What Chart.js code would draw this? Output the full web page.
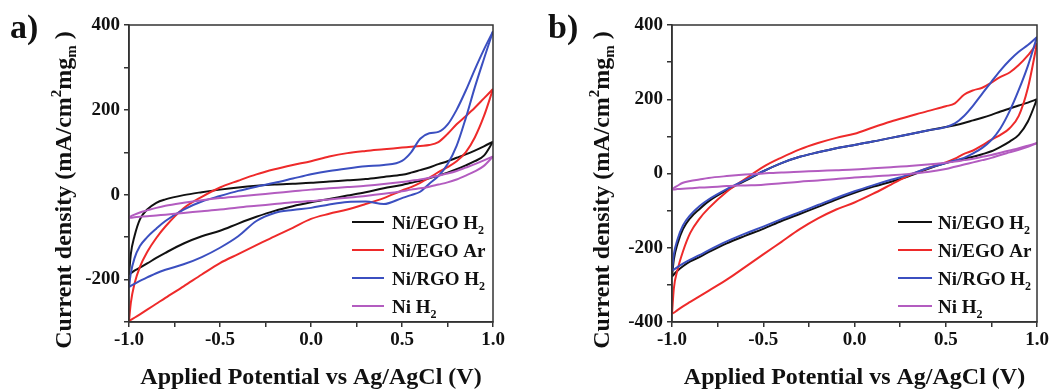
<!DOCTYPE html>
<html lang="en">
<head>
<meta charset="UTF-8">
<title>CV curves Ni/EGO</title>
<style>
  html, body { margin: 0; padding: 0; background: #fff; }
  .wrap { position: relative; width: 1052px; height: 389px; }
  .panel { position: absolute; top: 0; width: 526px; height: 389px; }
  #panelA { left: 0; }
  #panelB { left: 526px; }
</style>
<script src="https://cdn.jsdelivr.net/npm/chart.js@4.4.9/dist/chart.umd.min.js"></script>
</head>
<body>
<div class="wrap">
  <div class="panel" id="panelA"><canvas id="chartA" width="526" height="389"></canvas></div>
  <div class="panel" id="panelB"><canvas id="chartB" width="526" height="389"></canvas></div>
</div>
<script>
// potential grid (V vs Ag/AgCl), shared by every branch
const potential = [-1, -0.99, -0.97, -0.94, -0.9, -0.85, -0.8, -0.7, -0.6, -0.5, -0.4, -0.3, -0.2, -0.1, 0,
                   0.1, 0.2, 0.3, 0.4, 0.5, 0.55, 0.6, 0.65, 0.7, 0.75, 0.8, 0.85, 0.9, 0.95, 1];

const seriesNames = ['Ni/EGO H₂', 'Ni/EGO Ar', 'Ni/RGO H₂', 'Ni H₂'];
const seriesColors = ['#111111', '#ee2a2a', '#3b4fc0', '#b35cc0'];

// panel a) - anodic (forward) and cathodic (return) branches, mA/cm2 mg
const aEgoH2Fwd = [-188, -140, -98, -58, -35, -19, -11, -1, 6, 12, 17, 21, 24, 26, 28, 31, 34, 37, 42, 47, 52, 58, 64, 72, 79, 87, 95, 104, 114, 125];
const aEgoH2Rev = [-188, -185, -179, -172, -162, -149, -137, -115, -98, -85, -68, -52, -38, -27, -18, -10, -2, 6, 15, 23, 28, 33, 39, 45, 52, 60, 69, 79, 92, 125];
const aEgoArFwd = [-298, -255, -210, -170, -135, -102, -75, -32, -5, 17, 33, 48, 60, 70, 79, 90, 98, 103, 107, 111, 113, 115, 117, 124, 143, 166, 185, 205, 227, 249];
const aEgoArRev = [-298, -295, -290, -282, -271, -257, -243, -216, -188, -161, -140, -119, -98, -78, -57, -45, -35, -22, -8, 10, 18, 28, 40, 53, 65, 79, 100, 135, 185, 249];
const aRgoH2Fwd = [-218, -185, -150, -121, -100, -80, -62, -35, -16, -3, 9, 19, 28, 38, 48, 56, 62, 67, 70, 80, 100, 132, 145, 148, 165, 200, 245, 295, 342, 385];
const aRgoH2Rev = [-218, -215, -210, -203, -195, -185, -177, -164, -147, -125, -98, -62, -43, -36, -31, -23, -17, -16, -22, -8, -1, 7, 26, 44, 72, 115, 180, 253, 320, 385];
const aNiH2Fwd = [-54, -51, -47, -42, -37, -31, -26, -19, -13, -8, -4, 0, 4, 8, 12, 15, 18, 21, 25, 30, 33, 36, 40, 45, 50, 56, 64, 72, 81, 90];
const aNiH2Rev = [-54, -54, -53, -52, -51, -49, -47, -43, -39, -35, -30, -26, -22, -18, -15, -11, -7, -3, 2, 8, 12, 15, 19, 24, 29, 36, 45, 55, 68, 90];

// panel b)
const bEgoH2Fwd = [-278, -232, -190, -150, -120, -96, -75, -45, -20, 6, 28, 45, 57, 68, 77, 86, 96, 106, 116, 125, 130, 136, 143, 150, 158, 167, 175, 183, 191, 200];
const bEgoH2Rev = [-278, -272, -262, -250, -237, -225, -212, -188, -168, -149, -128, -109, -90, -70, -52, -36, -22, -7, 12, 28, 34, 40, 45, 52, 60, 72, 86, 104, 140, 200];
const bEgoArFwd = [-378, -310, -260, -210, -160, -122, -94, -49, -15, 18, 43, 65, 82, 96, 107, 124, 140, 154, 168, 181, 189, 212, 224, 231, 245, 260, 272, 292, 318, 350];
const bEgoArRev = [-378, -375, -368, -358, -346, -331, -316, -286, -252, -218, -184, -150, -121, -97, -78, -55, -30, -5, 14, 30, 40, 53, 62, 76, 91, 104, 122, 155, 230, 350];
const bRgoH2Fwd = [-262, -218, -178, -140, -112, -88, -70, -42, -18, 6, 28, 45, 57, 68, 77, 86, 96, 106, 116, 125, 135, 155, 183, 215, 247, 278, 305, 328, 346, 368];
const bRgoH2Rev = [-262, -259, -252, -243, -232, -220, -207, -183, -162, -143, -123, -104, -85, -66, -48, -32, -17, -3, 14, 28, 35, 42, 54, 69, 90, 122, 168, 225, 290, 368];
const bNiH2Fwd = [-43, -39, -33, -25, -20, -16, -12, -7, -3, 0, 3, 5, 7, 9, 11, 14, 17, 20, 24, 29, 32, 36, 40, 45, 50, 56, 62, 68, 75, 82];
const bNiH2Rev = [-43, -43, -42, -41, -40, -38, -37, -34, -32, -30, -26, -22, -19, -15, -11, -8, -5, -1, 4, 12, 18, 24, 30, 36, 42, 50, 57, 64, 72, 82];

const xTitle = 'Applied Potential vs Ag/AgCl (V)';
const FONT = '"Liberation Serif", "Times New Roman", serif';

// draw a list of text runs (for sub/superscripts) starting at x
function runsWidth(ctx, runs) {
    let w = 0;
    runs.forEach(r => { ctx.font = `bold ${r.s}px ${FONT}`; w += ctx.measureText(r.t).width; });
    return w;
}
function drawRuns(ctx, runs, x, y) {
    let cx = x;
    runs.forEach(r => {
        ctx.font = `bold ${r.s}px ${FONT}`;
        ctx.fillText(r.t, cx, y + (r.dy || 0));
        cx += ctx.measureText(r.t).width;
    });
}
function labelRuns(label, size) {
    const runs = [];
    label.split(/(₂)/).forEach(part => {
        if (!part) return;
        if (part === '₂') runs.push({ t: '2', s: Math.round(size * 0.62), dy: 5 });
        else runs.push({ t: part, s: size });
    });
    return runs;
}

const decorPlugin = {
    id: 'decor',
    afterDraw(chart, args, opts) {
        const ctx = chart.ctx;
        const a = chart.chartArea;
        ctx.save();
        ctx.strokeStyle = '#333';
        ctx.lineWidth = 1.5;
        ctx.strokeRect(a.left, a.top, a.right - a.left, a.bottom - a.top);

        ctx.fillStyle = '#111';
        ctx.textBaseline = 'alphabetic';
        ctx.font = `bold 34px ${FONT}`;
        ctx.fillText(opts.letter, opts.letterX, 38);

        // x title
        const xr = [{ t: xTitle, s: 24 }];
        drawRuns(ctx, xr, (a.left + a.right) / 2 - runsWidth(ctx, xr) / 2, 384);

        // y title, rotated
        const yr = [
            { t: 'Current density (mA/cm', s: 24 },
            { t: '2', s: 15, dy: -10 },
            { t: 'mg', s: 24 },
            { t: 'm', s: 15, dy: 5 },
            { t: ' )', s: 24 }
        ];
        ctx.save();
        ctx.translate(opts.yTitleX, 190);
        ctx.rotate(-Math.PI / 2);
        drawRuns(ctx, yr, -runsWidth(ctx, yr) / 2, 0);
        ctx.restore();

        // legend inside the plot
        const items = chart.data.datasets.filter(d => !d.isReturn);
        items.forEach((d, i) => {
            const y = 222 + i * 28;
            ctx.strokeStyle = d.borderColor;
            ctx.lineWidth = 2;
            ctx.beginPath();
            ctx.moveTo(opts.legX0, y);
            ctx.lineTo(opts.legX1, y);
            ctx.stroke();
            ctx.fillStyle = '#111';
            drawRuns(ctx, labelRuns(d.label, 19), opts.legText, y + 7);
        });
        ctx.restore();
    }
};

function makeChart(id, branches, yMin, yMax, o) {
    const datasets = [];
    branches.forEach((pair, k) => {
        pair.forEach((vals, j) => {
            datasets.push({
                label: seriesNames[k],
                isReturn: j === 1,
                data: potential.map((p, i) => ({ x: p, y: vals[i] })),
                borderColor: seriesColors[k],
                borderWidth: 2,
                pointRadius: 0,
                showLine: true,
                fill: false,
                cubicInterpolationMode: 'monotone',
                order: branches.length - k
            });
        });
    });

    const tickFont = { family: FONT, size: 19, weight: 'bold' };
    return new Chart(document.getElementById(id), {
        type: 'scatter',
        data: { datasets },
        options: {
            responsive: false,
            animation: false,
            devicePixelRatio: 1,
            layout: { padding: { left: 0, right: o.padRight, top: 25, bottom: 0 } },
            plugins: {
                legend: { display: false },
                tooltip: { enabled: false },
                decor: o
            },
            scales: {
                x: {
                    type: 'linear',
                    min: -1,
                    max: 1,
                    ticks: {
                        stepSize: 0.25,
                        autoSkip: false,
                        maxRotation: 0,
                        padding: 2,
                        color: '#111',
                        font: tickFont,
                        callback: v => Math.abs(v * 2 - Math.round(v * 2)) < 1e-6 ? v.toFixed(1) : ''
                    },
                    grid: { drawOnChartArea: false, tickLength: 5, color: '#333', lineWidth: 1.5 },
                    border: { color: '#333', width: 1.5 },
                    afterFit: s => { s.height = 67; }
                },
                y: {
                    min: yMin,
                    max: yMax,
                    ticks: {
                        stepSize: 100,
                        autoSkip: false,
                        padding: 4,
                        color: '#111',
                        font: tickFont,
                        callback: v => v % 200 === 0 ? v : ''
                    },
                    grid: { drawOnChartArea: false, tickLength: 5, color: '#333', lineWidth: 1.5 },
                    border: { color: '#333', width: 1.5 },
                    afterFit: s => { s.width = o.yWidth; }
                }
            }
        },
        plugins: [decorPlugin]
    });
}

makeChart('chartA',
    [[aEgoH2Fwd, aEgoH2Rev], [aEgoArFwd, aEgoArRev], [aRgoH2Fwd, aRgoH2Rev], [aNiH2Fwd, aNiH2Rev]],
    -300, 400,
    { letter: 'a)', letterX: 10, yTitleX: 71, yWidth: 129, padRight: 33, legX0: 352, legX1: 384, legText: 392 });

makeChart('chartB',
    [[bEgoH2Fwd, bEgoH2Rev], [bEgoArFwd, bEgoArRev], [bRgoH2Fwd, bRgoH2Rev], [bNiH2Fwd, bNiH2Rev]],
    -400, 400,
    { letter: 'b)', letterX: 22, yTitleX: 83, yWidth: 146, padRight: 15, legX0: 372, legX1: 406, legText: 412 });
</script>
</body>
</html>
